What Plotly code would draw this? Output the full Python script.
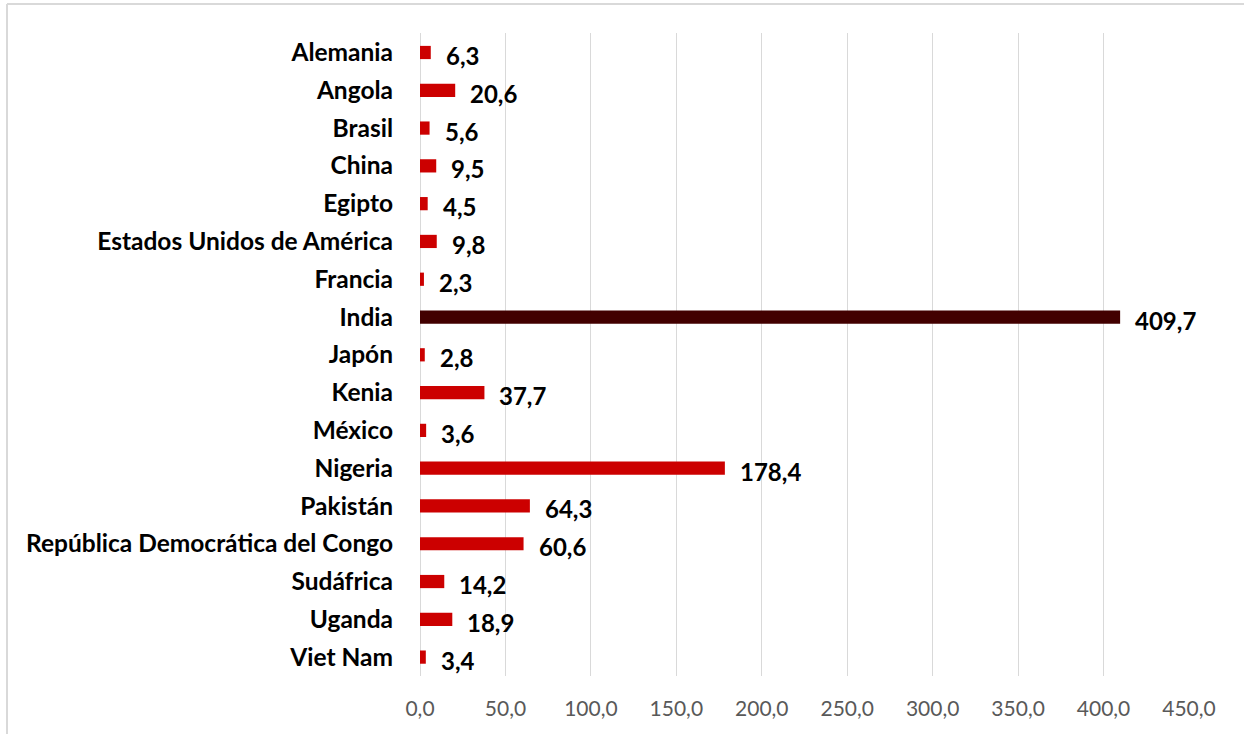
import plotly.graph_objects as go

countries = ["Alemania", "Angola", "Brasil", "China", "Egipto",
             "Estados Unidos de América", "Francia", "India", "Japón", "Kenia",
             "México", "Nigeria", "Pakistán", "República Democrática del Congo",
             "Sudáfrica", "Uganda", "Viet Nam"]
values = [6.3, 20.6, 5.6, 9.5, 4.5, 9.8, 2.3, 409.7, 2.8, 37.7,
          3.6, 178.4, 64.3, 60.6, 14.2, 18.9, 3.4]
highlight = "India"
x_ticks = [0, 50, 100, 150, 200, 250, 300, 350, 400, 450]

RED = "#CC0000"
DARK = "#420000"
colors = [DARK if c == highlight else RED for c in countries]

W, H = 1244, 734
ML, MR, MT, MB = 420, 55, 33, 58
pw, ph = W - ML - MR, H - MT - MB

fig = go.Figure()
fig.add_trace(go.Bar(
    y=countries, x=values, orientation="h",
    marker=dict(color=colors, line=dict(width=0)),
    hoverinfo="x+y",
))

for c, v in zip(countries, values):
    fig.add_annotation(
        x=v, y=c, xref="x", yref="y",
        text=f"<b>{v:.1f}</b>".replace(".", ","),
        showarrow=False, xanchor="left", yanchor="middle",
        xshift=13, yshift=-3,
        font=dict(family="Lato", size=24, color="#000000"),
    )

# outer chart frame (top and left edges visible)
fx = (7 - ML) / pw
fy = 1 + (MT - 4) / ph
fig.add_shape(type="line", xref="paper", yref="paper",
              x0=fx, x1=(W - ML) / pw, y0=fy, y1=fy,
              line=dict(color="#D9D9D9", width=2))
fig.add_shape(type="line", xref="paper", yref="paper",
              x0=fx, x1=fx, y0=fy, y1=-(MB + 5) / ph,
              line=dict(color="#D9D9D9", width=2))

fig.update_layout(
    width=W, height=H,
    margin=dict(l=ML, r=MR, t=MT, b=MB),
    paper_bgcolor="white", plot_bgcolor="white",
    separators=",.",
    bargap=0.65,
    showlegend=False,
    xaxis=dict(
        range=[0, 450], tickvals=x_ticks, tickformat=".1f",
        showgrid=True, gridcolor="#D9D9D9", gridwidth=1.3,
        zeroline=True, zerolinecolor="#D9D9D9", zerolinewidth=1.3,
        showline=False, ticks="", ticklabelstandoff=18,
        tickfont=dict(family="Lato", size=21, color="#595959"),
        fixedrange=True,
    ),
    yaxis=dict(
        categoryorder="array", categoryarray=countries,
        autorange="reversed",
        showgrid=False, zeroline=False, showline=False, ticks="",
        ticklabelstandoff=26,
        tickfont=dict(family="Lato", size=24.5, color="#000000", weight="bold"),
        fixedrange=True,
    ),
)

fig.write_html("out.html",
               config={"displayModeBar": False},
               post_script="document.body.style.margin='0';document.body.style.overflow='hidden';")
